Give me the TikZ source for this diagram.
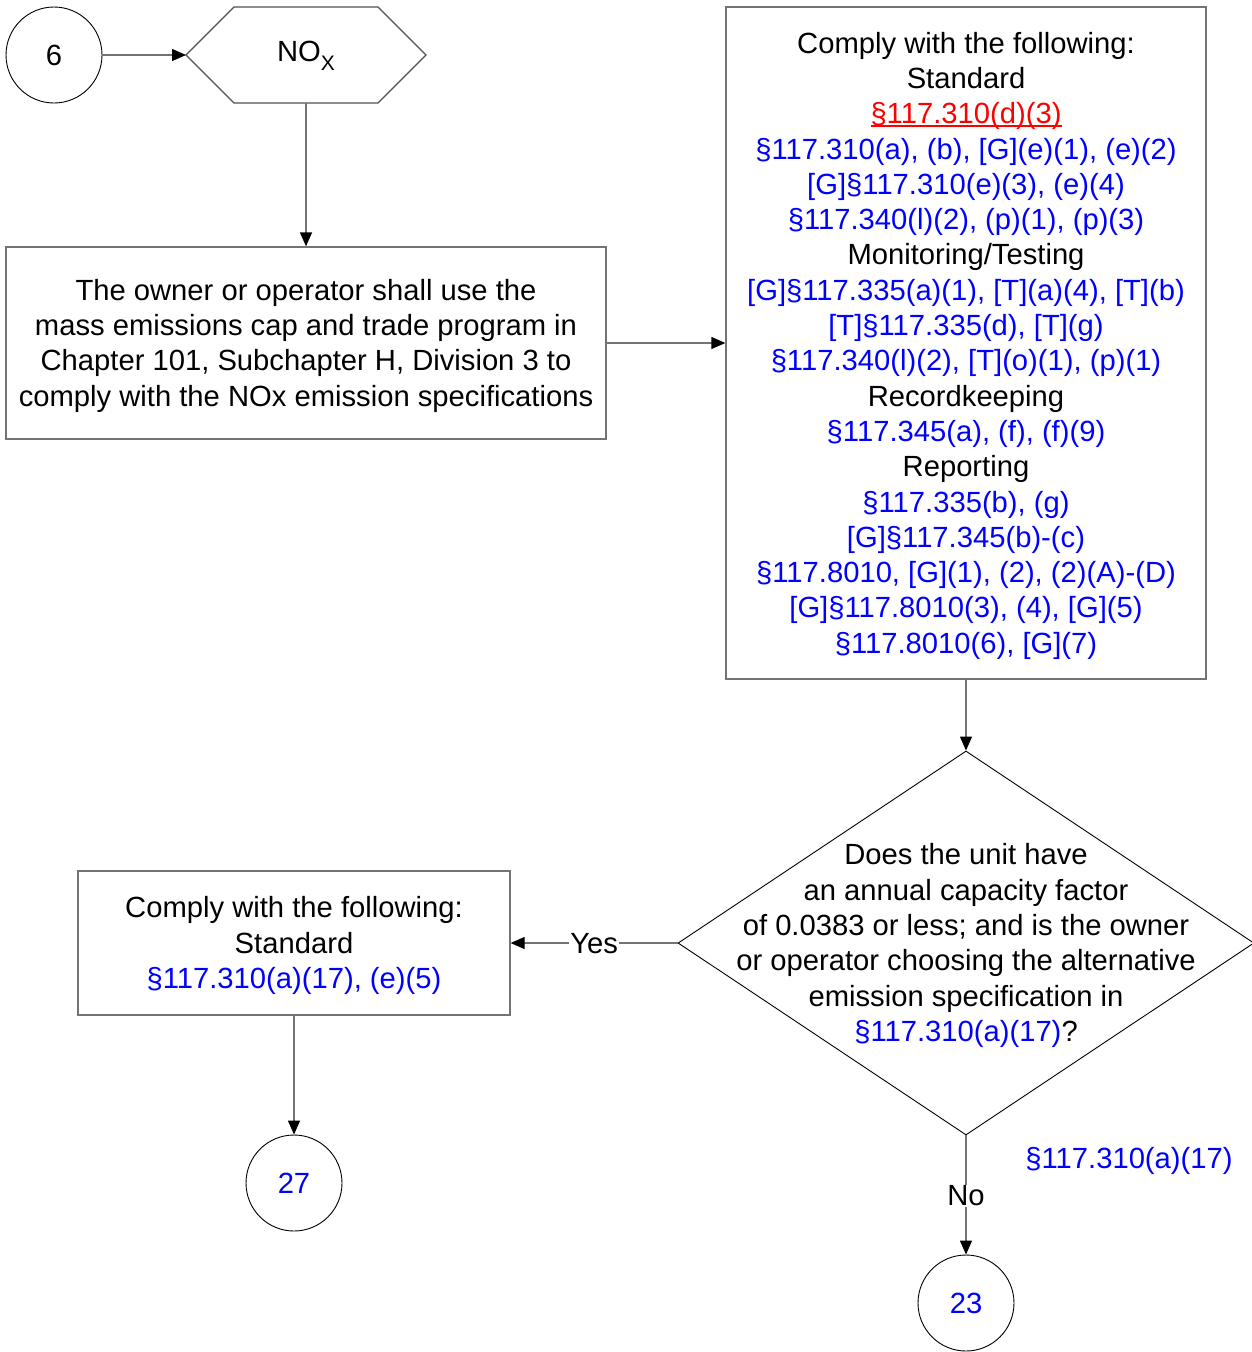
\documentclass[tikz,border=0pt]{standalone}
\usepackage{fontspec}
\setmainfont{Liberation Sans}
\usetikzlibrary{arrows.meta,shapes.geometric}
\definecolor{refblue}{RGB}{0,0,255}
\definecolor{refred}{RGB}{255,0,0}
\definecolor{linegray}{RGB}{115,115,115}
\newcommand\myblue[1]{\textcolor{refblue}{#1}}
\newcommand\myredul[1]{\textcolor{refred}{\setbox0\hbox{#1}\rlap{\rule[-3.2pt]{\wd0}{1.8pt}}\box0}}
\begin{document}
\begin{tikzpicture}[x=1pt,y=-1pt,
  every node/.style={font=\fontsize{29.2}{35.3}\selectfont},
  boxshape/.style={draw=linegray, line width=1.3pt, rectangle, inner sep=0pt},
  txt/.style={align=center, inner sep=0pt, yshift=-2.6pt},
  circ/.style={draw=black, line width=0.9pt, circle, minimum size=96pt, inner sep=0pt},
  conn/.style={draw=linegray, line width=1.3pt, -{Triangle[length=14pt,width=12pt,color=black]}},
  lbl/.style={fill=white, inner sep=1pt, yshift=-1pt},
  reftext/.style={text=refblue}]
\useasboundingbox (0,0) rectangle (1251,1352);

% start circle
\node[circ] (c6) at (54,55) {6};

% hexagon
\coordinate (hexW) at (186,55);
\coordinate (hexE) at (426,55);
\coordinate (hexS) at (306,103);
\draw[draw=linegray!70!black, line width=1.1pt] (hexW) -- (234,7) -- (378,7) -- (hexE) -- (378,103) -- (234,103) -- cycle;
\node (nox) at (306,56) {NO\raisebox{-0.3em}{\fontsize{21}{21}\selectfont X}};

% first box
\node[boxshape, minimum width=600pt, minimum height=192pt] (box1) at (306,343) {};
\node[txt] (box1text) at (box1.center)
  {The owner or operator shall use the\\
   mass emissions cap and trade program in\\
   Chapter 101, Subchapter H, Division 3 to\\
   comply with the NOx emission specifications};

% big box
\node[boxshape, minimum width=480pt, minimum height=672pt] (big) at (966,343) {};
\node[txt] (bigtext) at (big.center)
  {Comply with the following:\\
   Standard\\
   \myredul{§117.310(d)(3)}\\
   \myblue{§117.310(a), (b), [G](e)(1), (e)(2)}\\
   \myblue{[G]§117.310(e)(3), (e)(4)}\\
   \myblue{§117.340(l)(2), (p)(1), (p)(3)}\\
   Monitoring/Testing\\
   \myblue{[G]§117.335(a)(1), [T](a)(4), [T](b)}\\
   \myblue{[T]§117.335(d), [T](g)}\\
   \myblue{§117.340(l)(2), [T](o)(1), (p)(1)}\\
   Recordkeeping\\
   \myblue{§117.345(a), (f), (f)(9)}\\
   Reporting\\
   \myblue{§117.335(b), (g)}\\
   \myblue{[G]§117.345(b)-(c)}\\
   \myblue{§117.8010, [G](1), (2), (2)(A)-(D)}\\
   \myblue{[G]§117.8010(3), (4), [G](5)}\\
   \myblue{§117.8010(6), [G](7)}};

% diamond
\node[diamond, draw=black, line width=0.9pt, minimum width=576pt, minimum height=384pt, inner sep=0pt] (dia) at (966,943) {};
\node[txt] (diatext) at (dia.center)
  {Does the unit have\\
   an annual capacity factor\\
   of 0.0383 or less; and is the owner\\
   or operator choosing the alternative\\
   emission specification in\\
   \myblue{§117.310(a)(17)}?};

% second box
\node[boxshape, minimum width=432pt, minimum height=144pt] (box2) at (294,943) {};
\node[txt] (box2text) at (box2.center)
  {Comply with the following:\\
   Standard\\
   \myblue{§117.310(a)(17), (e)(5)}};

% end circles
\node[circ, text=refblue] (c27) at (294,1183) {27};
\node[circ, text=refblue] (c23) at (966,1303) {23};

% side reference
\node[reftext] (sideref) at (1129,1161) {§117.310(a)(17)};

% connectors
\draw[conn] (c6.east) -- (hexW);
\draw[conn] (hexS) -- (box1.north);
\draw[conn] (box1.east) -- (big.west);
\draw[conn] (big.south) -- (dia.north);
\draw[conn] (dia.west) -- node[lbl] (yes) {Yes} (box2.east);
\draw[conn] (box2.south) -- (c27.north);
\draw[conn] (dia.south) -- node[lbl] (no) {No} (c23.north);
\end{tikzpicture}
\end{document}
